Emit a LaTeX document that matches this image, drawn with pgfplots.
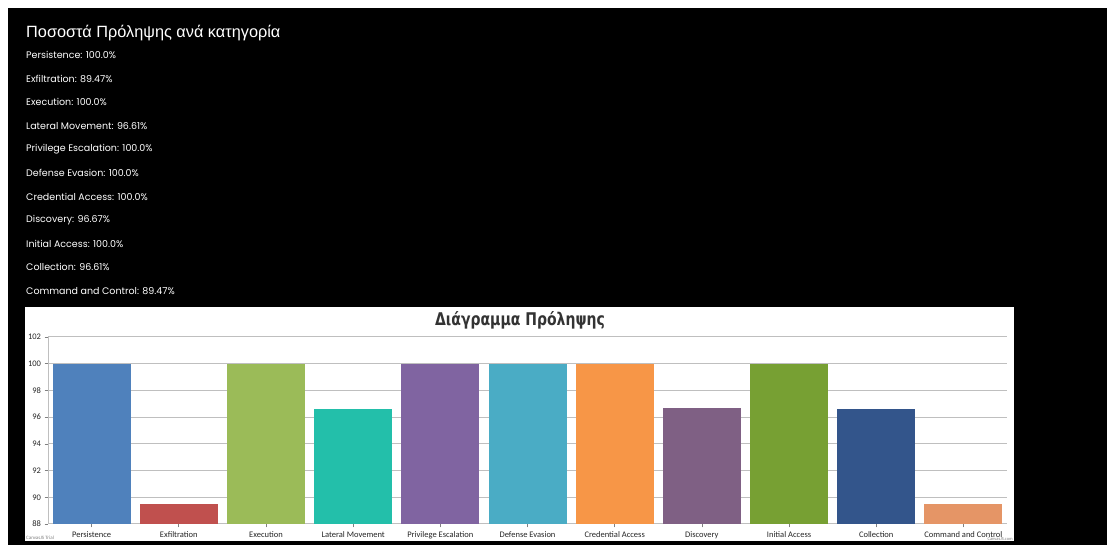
\documentclass[border=0pt]{standalone}
\usepackage{fontspec}
\usepackage{pgfplots}
\pgfplotsset{compat=1.18}
\setmainfont{Carlito}
\newfontfamily\titlefont{Liberation Sans}
\newfontfamily\listfont{Poppins}
\newfontfamily\ctfont{DejaVu Sans}
\definecolor{c1}{HTML}{4F81BC}
\definecolor{c2}{HTML}{C0504E}
\definecolor{c3}{HTML}{9BBB58}
\definecolor{c4}{HTML}{23BFAA}
\definecolor{c5}{HTML}{8064A1}
\definecolor{c6}{HTML}{4AACC5}
\definecolor{c7}{HTML}{F79647}
\definecolor{c8}{HTML}{7F6084}
\definecolor{c9}{HTML}{77A033}
\definecolor{c10}{HTML}{33558B}
\definecolor{c11}{HTML}{E59566}
\definecolor{gridc}{HTML}{BFBFBF}
\begin{document}
\begin{tikzpicture}[x=1pt,y=1pt]
\fill[white] (0,0) rectangle (1107,545);
\fill[black] (8,0) rectangle (1107,537);
\fill[white] (25,4) rectangle (1014,238);
% header texts
\node[anchor=west,text=white,inner sep=0pt] at (26,512) {\titlefont\fontsize{16.3}{20}\selectfont Ποσοστά Πρόληψης ανά κατηγορία};
\foreach \t [count=\i from 0] in {Persistence: 100.0\%,Exfiltration: 89.47\%,Execution: 100.0\%,Lateral Movement: 96.61\%,Privilege Escalation: 100.0\%,Defense Evasion: 100.0\%,Credential Access: 100.0\%,Discovery: 96.67\%,Initial Access: 100.0\%,Collection: 96.61\%,Command and Control: 89.47\%}{
  \node[anchor=west,text=white,inner sep=0pt] at (26,{545-55-23.6*\i}) {\listfont\fontsize{9.5}{11}\selectfont \t};
}
\node[text=black!80,inner sep=0pt] at (520,225) {\scalebox{0.8}[1]{\ctfont\bfseries\fontsize{17.5}{20}\selectfont Διάγραμμα Πρόληψης}};
\node[anchor=south west,text=gray,inner sep=0pt] at (26,5) {\fontsize{5}{6}\selectfont CanvasJS Trial};
\node[anchor=south east,text=gray,inner sep=0pt] at (1013,4.3) {\fontsize{4.5}{5}\selectfont CanvasJS.com};
\begin{axis}[
  at={(48pt,21pt)}, anchor=south west,
  scale only axis, width=959pt, height=187pt,
  xmin=-0.5, xmax=10.5, ymin=88, ymax=102,
  ybar, bar width=78pt, bar shift=0pt,
  xtick={0,...,10},
  xticklabels={Persistence,Exfiltration,Execution,Lateral Movement,Privilege Escalation,Defense Evasion,Credential Access,Discovery,Initial Access,Collection,Command and Control},
  ytick={88,90,...,102},
  ymajorgrids, grid style={color=gridc, line width=1pt},
  axis x line=bottom, axis y line=left,
  axis line style={-, color=gridc, line width=1pt},
  tick align=outside, major tick length=3.5pt,
  tick style={color=gray, line width=0.6pt},
  /pgf/number format/assume math mode=true,
  xticklabel style={font=\fontsize{8.5}{10}\selectfont, text=black!85, yshift=-0.5pt},
  yticklabel style={font=\fontsize{8.5}{10}\selectfont, text=black!85},
]
\addplot[fill=c1,draw=none] coordinates {(0,100)};
\addplot[fill=c2,draw=none] coordinates {(1,89.47)};
\addplot[fill=c3,draw=none] coordinates {(2,100)};
\addplot[fill=c4,draw=none] coordinates {(3,96.61)};
\addplot[fill=c5,draw=none] coordinates {(4,100)};
\addplot[fill=c6,draw=none] coordinates {(5,100)};
\addplot[fill=c7,draw=none] coordinates {(6,100)};
\addplot[fill=c8,draw=none] coordinates {(7,96.67)};
\addplot[fill=c9,draw=none] coordinates {(8,100)};
\addplot[fill=c10,draw=none] coordinates {(9,96.61)};
\addplot[fill=c11,draw=none] coordinates {(10,89.47)};
\end{axis}
\end{tikzpicture}
\end{document}
